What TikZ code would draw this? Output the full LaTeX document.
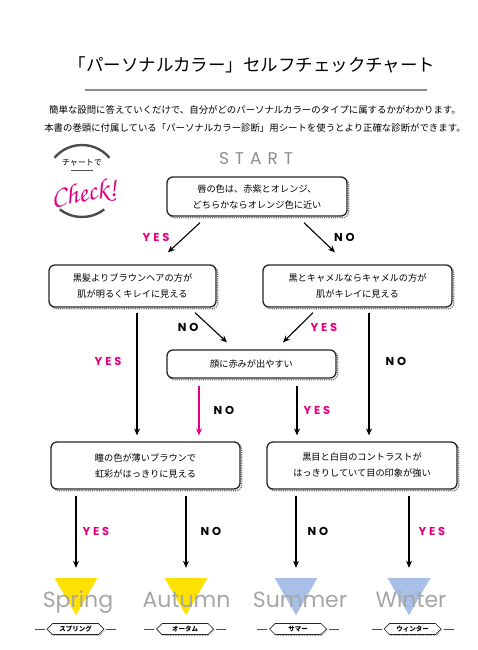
\documentclass[tikz,border=0pt]{standalone}
\usepackage{fontspec}
\usepackage{tikz}
\usetikzlibrary{arrows.meta,shapes.geometric,shapes.symbols,positioning,calc}
\usepackage{xcolor}
\setmainfont{Noto Sans CJK JP}
\newfontfamily\jpfont{Noto Sans CJK JP}
\newfontfamily\latinfont{Poppins}
\newfontfamily\spacedfont{Poppins}[LetterSpace=25]
\newfontfamily\startfont{Poppins}[LetterSpace=35]
\newfontfamily\checkfont{texgyrechorus-mediumitalic.otf}
\definecolor{yespink}{RGB}{228,0,127}
\definecolor{springyellow}{RGB}{255,226,0}
\definecolor{summerblue}{RGB}{168,192,232}

\begin{document}
\begin{tikzpicture}[x=1pt, y=-1pt,
  qbox/.style={draw=black!85, line width=1.3pt, rounded corners=6pt, fill=white, align=center, inner sep=0pt,
    font=\jpfont\fontsize{9.2}{16}\selectfont,
    preaction={draw=black!55, densely dotted, line width=1.2pt, transform canvas={shift={(1.8pt,-1.8pt)}}}},
  arr/.style={-{Stealth[length=7pt,width=6pt]}, line width=1.1pt},
  pinkarr/.style={arr, color=yespink},
  yes/.style={font=\spacedfont\bfseries\fontsize{11.5}{12}\selectfont, text=yespink, inner sep=0pt},
  no/.style={yes, text=black},
  tri/.style={regular polygon, regular polygon sides=3, shape border rotate=180, minimum size=49.6pt, inner sep=0pt},
  season/.style={font=\latinfont\fontsize{22}{22}\selectfont, text=black!35, anchor=base, inner sep=0pt},
  tag/.style={signal, signal to=west and east, draw=black!85, line width=0.7pt, fill=white, minimum width=57pt,
    minimum height=11pt, inner sep=0pt, font=\jpfont\bfseries\fontsize{6.5}{7}\selectfont,
    preaction={draw=black!50, densely dotted, line width=0.6pt, transform canvas={shift={(1pt,-1pt)}}}},
  tagline/.style={line width=0.7pt, black!70},
  logoarc/.style={line width=2.4pt, black!70},
]
\useasboundingbox (0,0) rectangle (477,650);

% ─── Heading ───
\node[font=\jpfont\fontsize{17.5}{20}\selectfont] (title) at (252,65) {「パーソナルカラー」セルフチェックチャート};
\draw[black!45, line width=2.5pt, dash pattern=on 0.5pt off 0.5pt] (85,90) -- (427,90);
\node[font=\jpfont\fontsize{9.4}{18}\selectfont, align=center] (intro) at (255,119)
  {簡単な設問に答えていくだけで、自分がどのパーソナルカラーのタイプに属するかがわかります。\\
   本書の巻頭に付属している「パーソナルカラー診断」用シートを使うとより正確な診断ができます。};

% ─── Logo ───
\draw[logoarc] (82,181) ++(-40:36) arc[start angle=-40, end angle=-140, radius=36];
\draw[logoarc] (82,181) ++(128:36) arc[start angle=128, end angle=52, radius=36];
\node[font=\jpfont\fontsize{8}{9}\selectfont, inner sep=1pt] (chart) at (82,163) {チャートで};
\draw[black!70, line width=0.8pt] ([xshift=-11pt,yshift=-2.5pt]chart.south) -- ([xshift=11pt,yshift=-2.5pt]chart.south);
\node[font=\checkfont\fontsize{28}{28}\selectfont, text=yespink, rotate=9, inner sep=0pt] (check) at (84,194) {Check!};

% ─── Start question ───
\node[font=\startfont\fontsize{17}{17}\selectfont, text=black!45] (start) at (256,159) {START};
\node[qbox, minimum width=180pt, minimum height=39pt] (q1) at (257,196.5)
  {唇の色は、赤紫とオレンジ、\\どちらかならオレンジ色に近い};

% ─── Second row ───
\node[qbox, minimum width=167pt, minimum height=42pt] (qL1) at (132.5,286)
  {黒髪よりブラウンヘアの方が\\肌が明るくキレイに見える};
\node[qbox, minimum width=189pt, minimum height=42pt] (qR1) at (357.5,286)
  {黒とキャメルならキャメルの方が\\肌がキレイに見える};
\draw[arr] ([xshift=-57pt,yshift=-6pt]q1.south) -- node[midway, left=14pt, yes]{YES} ([xshift=35.5pt,yshift=12pt]qL1.north);
\draw[arr] ([xshift=47pt,yshift=-6pt]q1.south) -- node[midway, right=14pt, no]{NO} ([xshift=-22.5pt,yshift=12pt]qR1.north);

% ─── Middle question ───
\node[qbox, minimum width=169pt, minimum height=28pt] (qM) at (251.5,364) {顔に赤みが出やすい};
\draw[arr] ([xshift=62.5pt,yshift=-5pt]qL1.south) -- node[midway, left=12pt, no]{NO} ([xshift=-24.5pt,yshift=7pt]qM.north);
\draw[arr] ([xshift=-44.5pt,yshift=-5pt]qR1.south) -- node[midway, right=12pt, yes]{YES} ([xshift=31.5pt,yshift=7pt]qM.north);

% ─── Third row ───
\node[qbox, minimum width=189pt, minimum height=47pt] (qL2) at (145.5,465.5)
  {瞳の色が薄いブラウンで\\虹彩がはっきりに見える};
\node[qbox, minimum width=190pt, minimum height=47pt] (qR2) at (362,465.5)
  {黒目と白目のコントラストが\\はっきりしていて目の印象が強い};
\draw[arr] ([xshift=4.5pt,yshift=-5pt]qL1.south) -- node[pos=0.4, left=15pt, yes]{YES} ([xshift=-8.5pt,yshift=6pt]qL2.north);
\draw[arr] ([xshift=11.5pt,yshift=-5pt]qR1.south) -- node[pos=0.4, right=16pt, no]{NO} ([xshift=7pt,yshift=6pt]qR2.north);
\draw[pinkarr] ([xshift=-52.5pt,yshift=-7pt]qM.south) -- node[midway, right=14pt, no]{NO} ([xshift=53.5pt,yshift=6pt]qL2.north);
\draw[arr] ([xshift=45.5pt,yshift=-7pt]qM.south) -- node[midway, right=6pt, yes]{YES} ([xshift=-65pt,yshift=6pt]qR2.north);

% ─── Results ───
\node[tri, fill=springyellow] (triSpring) at (76,590.4) {};
\node[tri, fill=springyellow] (triAutumn) at (186,590.4) {};
\node[tri, fill=summerblue] (triSummer) at (296,590.4) {};
\node[tri, fill=summerblue] (triWinter) at (409,590.4) {};
\draw[arr] ([xshift=-69.5pt,yshift=-6pt]qL2.south) -- node[midway, right=6pt, yes]{YES} ([yshift=10pt]triSpring.north);
\draw[arr] ([xshift=40.5pt,yshift=-6pt]qL2.south) -- node[midway, right=14pt, no]{NO} ([yshift=10pt]triAutumn.north);
\draw[arr] ([xshift=-66pt,yshift=-6pt]qR2.south) -- node[midway, right=11pt, no]{NO} ([yshift=10pt]triSummer.north);
\draw[arr] ([xshift=47pt,yshift=-6pt]qR2.south) -- node[midway, right=9pt, yes]{YES} ([yshift=10pt]triWinter.north);

\node[season] (spring) at (78,607) {Spring};
\node[season] (autumn) at (186.5,607) {Autumn};
\node[season] (summer) at (300,607) {Summer};
\node[season] (winter) at (411,607) {Winter};

% ─── Result tags ───
\node[tag] (tagSpring) at (75.5,629) {スプリング};
\draw[tagline] ([xshift=-2pt]tagSpring.west) -- ++(-10pt,0);
\draw[tagline] ([xshift=2pt]tagSpring.east) -- ++(10pt,0);
\node[tag] (tagAutumn) at (185,629) {オータム};
\draw[tagline] ([xshift=-2pt]tagAutumn.west) -- ++(-10pt,0);
\draw[tagline] ([xshift=2pt]tagAutumn.east) -- ++(10pt,0);
\node[tag] (tagSummer) at (298,629) {サマー};
\draw[tagline] ([xshift=-2pt]tagSummer.west) -- ++(-10pt,0);
\draw[tagline] ([xshift=2pt]tagSummer.east) -- ++(10pt,0);
\node[tag] (tagWinter) at (412.5,629) {ウィンター};
\draw[tagline] ([xshift=-2pt]tagWinter.west) -- ++(-10pt,0);
\draw[tagline] ([xshift=2pt]tagWinter.east) -- ++(10pt,0);

\end{tikzpicture}
\end{document}
